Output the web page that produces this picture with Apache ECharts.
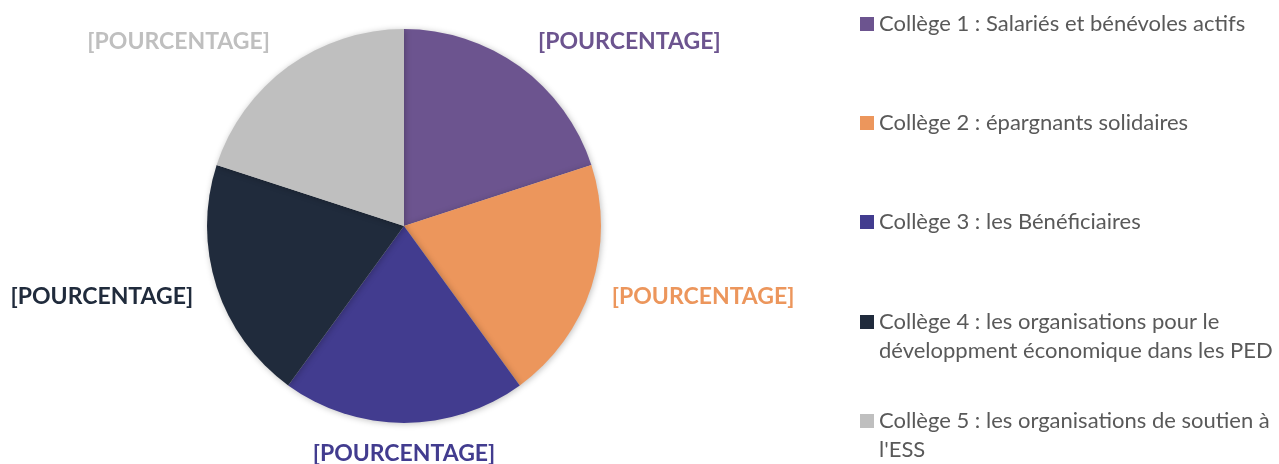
<!DOCTYPE html>
<html>
<head>
<meta charset="utf-8">
<script src="https://cdn.jsdelivr.net/npm/echarts@6/dist/echarts.min.js"></script>
<style>
  html, body { margin: 0; padding: 0; background: #fff; }
  #chart { width: 1279px; height: 464px; }
</style>
</head>
<body>
<div id="chart"></div>
<script>
// data
var colleges = [
    "Collège 1 : Salariés et bénévoles actifs",
    "Collège 2 : épargnants solidaires",
    "Collège 3 : les Bénéficiaires",
    "Collège 4 : les organisations pour le développment économique dans les PED",
    "Collège 5 : les organisations de soutien à l'ESS"
];
var shares = [20, 20, 20, 20, 20];
var labelText = "[POURCENTAGE]";

var palette = ["#6c548f", "#ec965c", "#423c8f", "#202b3c", "#bfbfbf"];
var font = "Lato, 'Open Sans', sans-serif";
var lineH = 29;

var chart = echarts.init(document.getElementById("chart"));

// one legend per item so the rows sit where the original has them
var legendTops = [24, 123, 222, 322, 421];
var legends = colleges.map(function (name, i) {
    var wraps = i >= 3;
    return {
        orient: "vertical",
        left: 860,
        // wrapped items carry a blank first line, so their box is 3 lines tall
        top: legendTops[i] - (wraps ? 1.5 : 0.5) * lineH,
        padding: 0,
        itemWidth: 14,
        itemHeight: 14,
        icon: "rect",
        selectedMode: false,
        data: [name],
        // blank first line so the marker lines up with the first text line
        formatter: function (n) { return wraps ? "\n" + n : n; },
        textStyle: {
            fontFamily: font,
            fontSize: 22,
            color: "#595959",
            lineHeight: lineH,
            width: 420,
            overflow: "break"
        }
    };
});

var option = {
    animation: false,
    color: palette,
    legend: legends,
    series: [
        {
            name: "Collèges",
            type: "pie",
            center: [404, 226],
            radius: 197,
            startAngle: 90,
            clockwise: true,
            avoidLabelOverlap: false,
            itemStyle: {
                borderWidth: 0,
                shadowBlur: 6,
                shadowColor: "rgba(0,0,0,0.25)",
                shadowOffsetX: 1,
                shadowOffsetY: 1
            },
            label: {
                show: true,
                position: "outside",
                formatter: labelText,
                fontFamily: font,
                fontWeight: "bold",
                fontSize: 23,
                distanceToLabelLine: 0
            },
            labelLine: {
                show: false,
                length: 31,
                length2: 0
            },
            labelLayout: function (params) {
                // bottom label is centred under the slice, side ones sit a bit closer
                if (params.dataIndex === 2) return { align: "center" };
                if (params.dataIndex === 1) return { dx: -9 };
                if (params.dataIndex === 3) return { dx: 6 };
                return {};
            },
            emphasis: { disabled: true },
            data: colleges.map(function (name, i) {
                return { name: name, value: shares[i], label: { color: palette[i] } };
            })
        }
    ]
};

chart.setOption(option);
</script>
</body>
</html>
